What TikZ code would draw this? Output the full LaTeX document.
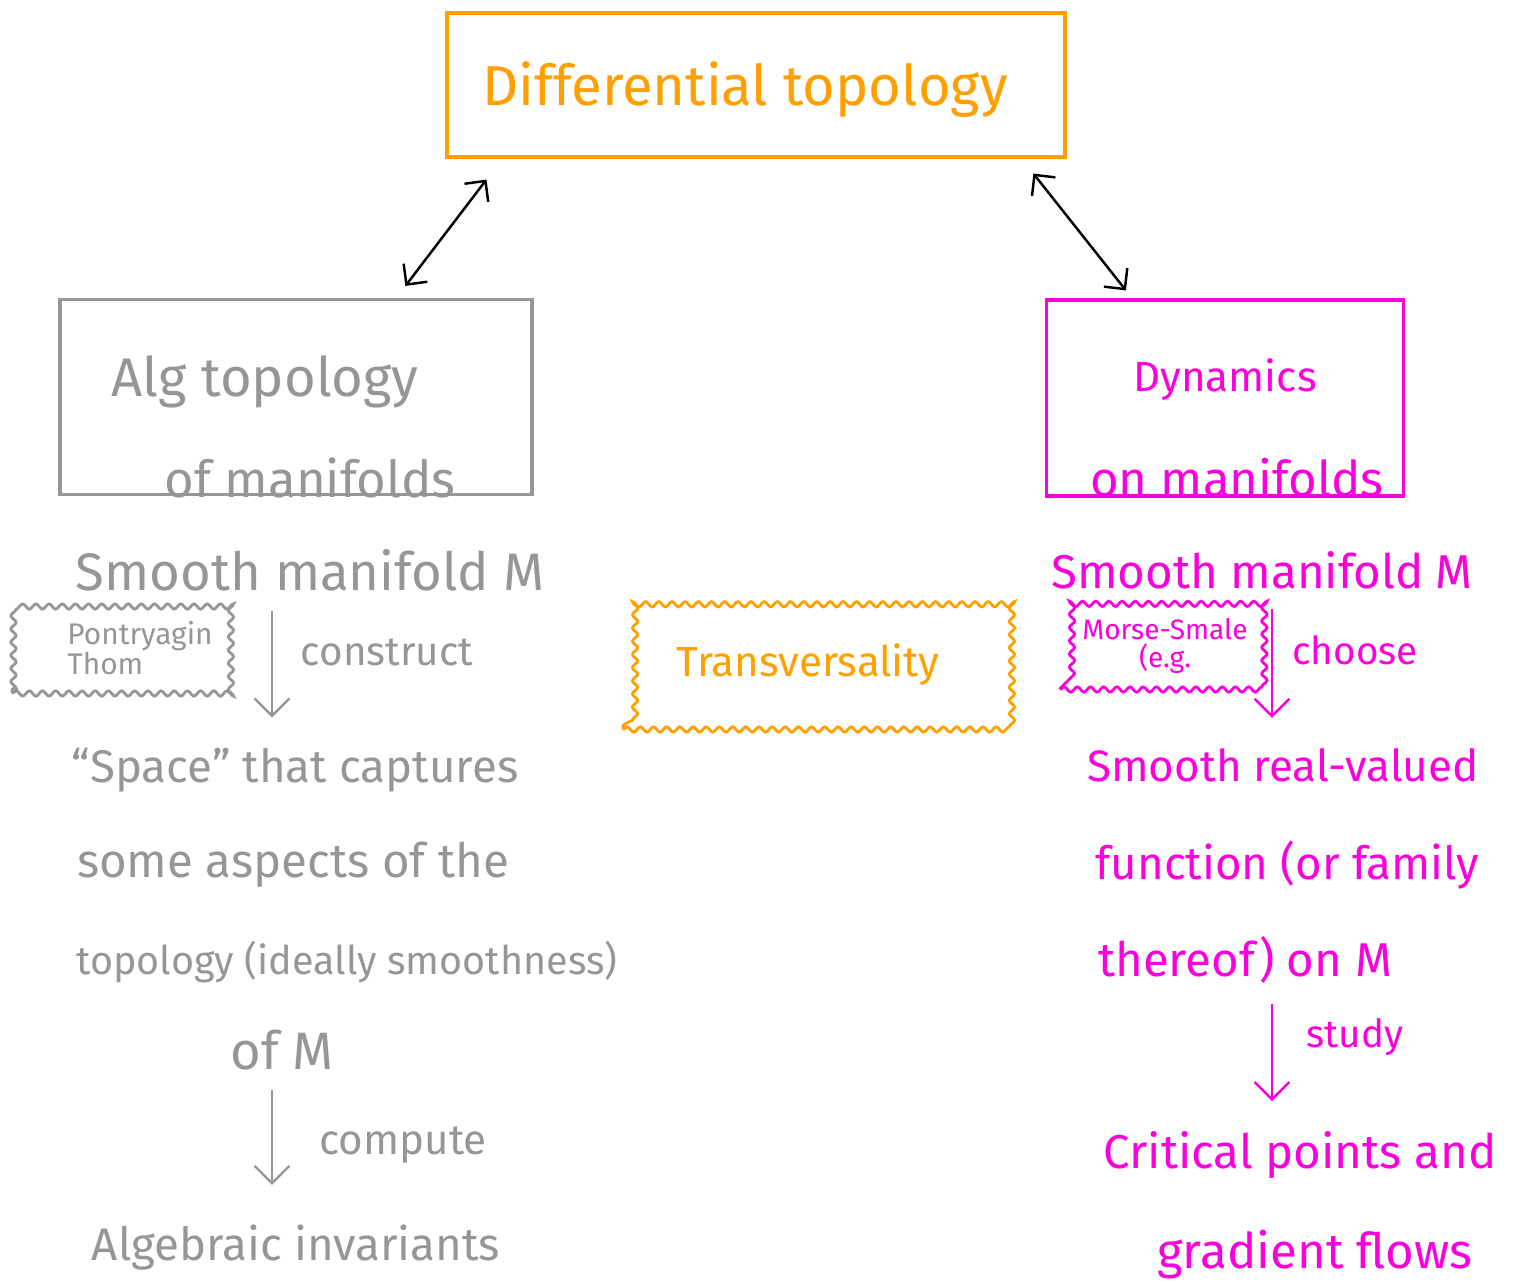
\documentclass[tikz,border=0pt]{standalone}
\usepackage{fontspec}
\setmainfont{Fira Sans}
\usetikzlibrary{arrows.meta,decorations.pathmorphing}

\definecolor{dtorange}{RGB}{255,160,0}
\definecolor{algray}{RGB}{150,150,150}
\definecolor{dynpink}{RGB}{250,0,220}

\newcommand{\fsz}[1]{\fontsize{#1}{#1}\selectfont}

\begin{document}
\begin{tikzpicture}[x=0.02cm,y=-0.02cm,
  box/.style={draw=#1, line width=1.8pt, inner sep=0pt},
  txt/.style={text=#1, inner sep=0pt},
  cloudbox/.style={draw=#1, line width=1.6pt, decorate,
    decoration={snake, segment length=7.5pt, amplitude=1.5pt}},
  down/.style={draw=#1, line width=1.4pt, -{Straight Barb[angle=90:14pt]}},
  dbl/.style={line width=1.4pt, {Straight Barb[angle=90:12pt]}-{Straight Barb[angle=90:12pt]}}
]
\useasboundingbox (0,0) rectangle (1526,1284);

% top box
\node[box=dtorange, minimum width=12.36cm, minimum height=2.88cm] (difftop) at (756,85) {};
\node[txt=dtorange, font=\fsz{32}] (difftoptxt) at (745,90) {Differential topology};

% the two sides
\node[box=algray, minimum width=9.44cm, minimum height=3.9cm] (algtop) at (296,397) {};
\node[txt=algray, font=\fsz{31}] (algtxt) at (265,382) {Alg topology};
\node[txt=algray, font=\fsz{29}] (algmfd) at (310,478) {of manifolds};

\node[box=dynpink, minimum width=7.14cm, minimum height=3.92cm] (dyn) at (1225,398) {};
\node[txt=dynpink, font=\fsz{24}] (dyntxt) at (1225,380) {Dynamics};
\node[txt=dynpink, font=\fsz{28}] (dynmfd) at (1237,478) {on manifolds};

\draw[dbl] ([xshift=0.82cm,yshift=-0.42cm]difftop.south west) -- ([xshift=6.94cm,yshift=0.24cm]algtop.north west);
\draw[dbl] ([xshift=11.76cm,yshift=-0.3cm]difftop.south west) -- ([xshift=1.62cm,yshift=0.16cm]dyn.north west);

% left column
\coordinate (xL) at (272,0);
\node[txt=algray, font=\fsz{30}] (smoothL) at (310,570) {Smooth manifold M};
\node[cloudbox=algray, minimum width=4.32cm, minimum height=1.86cm] (ptcloud) at (120,647) {};
\node[txt=algray, font=\fsz{17}, align=left] (pttxt) at (140,648) {Pontryagin\\Thom};
\node[txt=algray, font=\fsz{26}] (spaceL) at (295,770) {``Space'' that captures};
\node[txt=algray, font=\fsz{27}] (aspectsL) at (293,865) {some aspects of the};
\node[txt=algray, font=\fsz{22.5}] (topL) at (347,962) {topology (ideally smoothness)};
\node[txt=algray, font=\fsz{30}] (ofmL) at (282,1050) {of M};
\node[txt=algray, font=\fsz{26}] (invL) at (296,1248) {Algebraic invariants};
\draw[down=algray, shorten <=0.4cm, shorten >=0.6cm] (smoothL.south -| xL) -- (spaceL.north -| xL);
\node[txt=algray, font=\fsz{23}] (constr) at (387,652) {construct};
\draw[down=algray, shorten <=0.4cm, shorten >=0.8cm] (ofmL.south -| xL) -- (invL.north -| xL);
\node[txt=algray, font=\fsz{24}] (comp) at (403,1145) {compute};

% middle
\node[cloudbox=dtorange, minimum width=7.68cm, minimum height=2.5cm] (transv) at (815,667) {};
\node[txt=dtorange, font=\fsz{24}] (transvtxt) at (808,665) {Transversality};

% right column
\coordinate (xR) at (1272,0);
\node[txt=dynpink, font=\fsz{27}] (smoothR) at (1262,570) {Smooth manifold M};
\node[cloudbox=dynpink, minimum width=3.96cm, minimum height=1.66cm] (mscloud) at (1159,648) {};
\node[txt=dynpink, font=\fsz{16}, align=center] (mstxt) at (1165,646) {Morse-Smale\\(e.g.};
\node[txt=dynpink, font=\fsz{25}] (funR) at (1283,765) {Smooth real-valued};
\node[txt=dynpink, font=\fsz{26}] (famR) at (1287,865) {function (or family};
\node[txt=dynpink, font=\fsz{27}] (onmR) at (1245,960) {thereof) on M};
\node[txt=dynpink, font=\fsz{27}] (critR) at (1300,1155) {Critical points and};
\node[txt=dynpink, font=\fsz{28}] (gradR) at (1315,1255) {gradient flows};
\draw[down=dynpink, shorten <=0.4cm, shorten >=0.6cm] (smoothR.south -| xR) -- (funR.north -| xR);
\node[txt=dynpink, font=\fsz{22}] (choose) at (1355,650) {choose};
\draw[down=dynpink, shorten <=0.4cm, shorten >=0.6cm] (onmR.south -| xR) -- (critR.north -| xR);
\node[txt=dynpink, font=\fsz{22}] (study) at (1355,1037) {study};
\end{tikzpicture}
\end{document}
